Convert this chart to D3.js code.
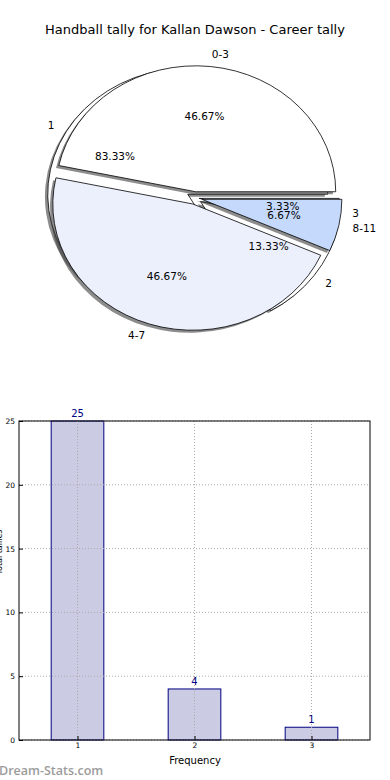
<!DOCTYPE html>
<html>
<head>
<meta charset="utf-8">
<script src="https://cdn.jsdelivr.net/npm/d3@7"></script>
<style>
  body { margin: 0; background: #fff; }
  svg { display: block; font-family: "DejaVu Sans", sans-serif; }
</style>
</head>
<body>
<svg id="chart" width="390" height="780"></svg>
<script>
// tally data
var freqLabels = ["1", "2", "3"];
var freqCounts = [25, 4, 1];
var rangeLabels = ["0-3", "4-7", "8-11"];
var rangeCounts = [14, 14, 2];
var yTicks = [0, 5, 10, 15, 20, 25];

var title = "Handball tally for Kallan Dawson - Career tally";

var svg = d3.select("#chart");

// ---- pie part (two pies drawn on top of each other, matplotlib style)
var pcx = 195, pcy = 198, rx = 140, ry = 126;

// matplotlib goes counter clockwise from 3 o'clock
var pie = d3.pie().sort(null).startAngle(Math.PI / 2).endAngle(Math.PI / 2 - 2 * Math.PI);
var arc = d3.arc().innerRadius(0).outerRadius(1);

function drawPie(g, labels, values, explode, colors) {
  var total = d3.sum(values);
  var arcs = pie(values);
  arcs.forEach(function(d, i) {
    d.mid = (d.startAngle + d.endAngle) / 2;
    d.ox = explode[i] * rx * Math.sin(d.mid);
    d.oy = -explode[i] * ry * Math.cos(d.mid);
    d.label = labels[i];
    d.pct = (100 * d.value / total).toFixed(2) + "%";
  });

  // shadows first
  g.selectAll("path.shadow").data(arcs).enter().append("path")
    .attr("class", "shadow")
    .attr("transform", function(d) {
      return "translate(" + (pcx + d.ox - 0.02 * rx) + "," + (pcy + d.oy + 0.02 * ry) + ") scale(" + rx + "," + ry + ")";
    })
    .attr("d", arc)
    .style("fill", "#404040")
    .style("fill-opacity", 0.6);

  g.selectAll("path.wedge").data(arcs).enter().append("path")
    .attr("class", "wedge")
    .attr("transform", function(d) {
      return "translate(" + (pcx + d.ox) + "," + (pcy + d.oy) + ") scale(" + rx + "," + ry + ")";
    })
    .attr("d", arc)
    .attr("vector-effect", "non-scaling-stroke")
    .style("fill", function(d, i) { return colors[i]; })
    .style("stroke", "#000")
    .style("stroke-width", 0.8)
    .style("stroke-linejoin", "round");

  return arcs;
}

var gA = svg.append("g");
var arcsA = drawPie(gA, freqLabels, freqCounts, [0.06, 0.05, 0.03], ["#fff", "#fff", "#fff"]);
var gB = svg.append("g");
var arcsB = drawPie(gB, rangeLabels, rangeCounts, [0.05, 0.05, 0.05], ["#fff", "#ebf0fc", "#c5d9fd"]);

// texts on top of everything
var gt = svg.append("g").style("font-size", "10.5px").style("fill", "#000");
arcsA.concat(arcsB).forEach(function(d) {
  var sx = Math.sin(d.mid), cy = Math.cos(d.mid);
  var lx = pcx + d.ox + 1.1 * rx * sx;
  var ly = pcy + d.oy - 1.1 * ry * cy;
  gt.append("text")
    .attr("x", lx).attr("y", ly)
    .attr("dy", "0.35em")
    .attr("text-anchor", lx > pcx ? "start" : "end")
    .text(d.label);
  gt.append("text")
    .attr("x", pcx + d.ox + 0.6 * rx * sx)
    .attr("y", pcy + d.oy - 0.6 * ry * cy)
    .attr("dy", "0.35em")
    .attr("text-anchor", "middle")
    .text(d.pct);
});

svg.append("text")
  .attr("x", 195).attr("y", 34)
  .attr("text-anchor", "middle")
  .style("font-size", "13px")
  .text(title);

// ---- bar part
var axL = 19, axR = 370, axT = 421, axB = 740;
var x = d3.scaleLinear().domain([0.5, 3.5]).range([axL, axR]);
var y = d3.scaleLinear().domain([0, 25]).range([axB, axT]);
var barW = 0.45;

var gb = svg.append("g");

// bars
gb.selectAll("rect.bar").data(freqCounts).enter().append("rect")
  .attr("x", function(d, i) { return x(+freqLabels[i] - barW / 2); })
  .attr("y", function(d) { return y(d); })
  .attr("width", x(barW) - x(0))
  .attr("height", function(d) { return axB - y(d); })
  .style("fill", "#cbcce4")
  .style("stroke", "#000080")
  .style("stroke-width", 1);

// dotted grid drawn over the bars like matplotlib
gb.selectAll("line.vgrid").data(freqLabels).enter().append("line")
  .attr("x1", function(d) { return x(+d); }).attr("x2", function(d) { return x(+d); })
  .attr("y1", axT).attr("y2", axB)
  .style("stroke", "#aaa").style("stroke-dasharray", "1,2").style("stroke-width", 1);
gb.selectAll("line.hgrid").data(yTicks).enter().append("line")
  .attr("x1", axL).attr("x2", axR)
  .attr("y1", function(d) { return y(d); }).attr("y2", function(d) { return y(d); })
  .style("stroke", "#aaa").style("stroke-dasharray", "1,2").style("stroke-width", 1);

gb.selectAll("text.val").data(freqCounts).enter().append("text")
  .attr("x", function(d, i) { return x(+freqLabels[i]); })
  .attr("y", function(d) { return y(d) - 4; })
  .attr("text-anchor", "middle")
  .style("font-size", "10px")
  .style("fill", "#000080")
  .text(function(d) { return d; });

// frame
gb.append("rect")
  .attr("x", axL).attr("y", axT)
  .attr("width", axR - axL).attr("height", axB - axT)
  .style("fill", "none").style("stroke", "#000").style("stroke-width", 1);

// axes
var yAxis = d3.axisLeft(y).tickValues(yTicks).tickSize(-4).tickPadding(4);
var xAxis = d3.axisBottom(x).tickValues(freqLabels.map(Number)).tickFormat(d3.format("d")).tickSize(-4).tickPadding(3);
var ga = svg.append("g").attr("transform", "translate(" + axL + ",0)").call(yAxis);
var gx = svg.append("g").attr("transform", "translate(0," + axB + ")").call(xAxis);
[ga, gx].forEach(function(a) {
  a.select(".domain").remove();
  a.selectAll("text").style("font-size", "7.5px").style("font-family", "DejaVu Sans, sans-serif");
  a.selectAll("line").style("stroke", "#000");
});

svg.append("text")
  .attr("x", 195).attr("y", 764)
  .attr("text-anchor", "middle")
  .style("font-size", "10px")
  .text("Frequency");

// y label sits mostly outside the picture in the original
svg.append("text")
  .attr("transform", "translate(2,552) rotate(-90)")
  .attr("text-anchor", "middle")
  .style("font-size", "8px")
  .text("Total tallies");

// watermark
svg.append("text")
  .attr("x", -1).attr("y", 775)
  .style("font-family", "Open Sans, sans-serif")
  .style("font-weight", "600")
  .style("font-size", "12.5px")
  .style("fill", "#9c9c9c")
  .text("Dream-Stats.com");
</script>
</body>
</html>
